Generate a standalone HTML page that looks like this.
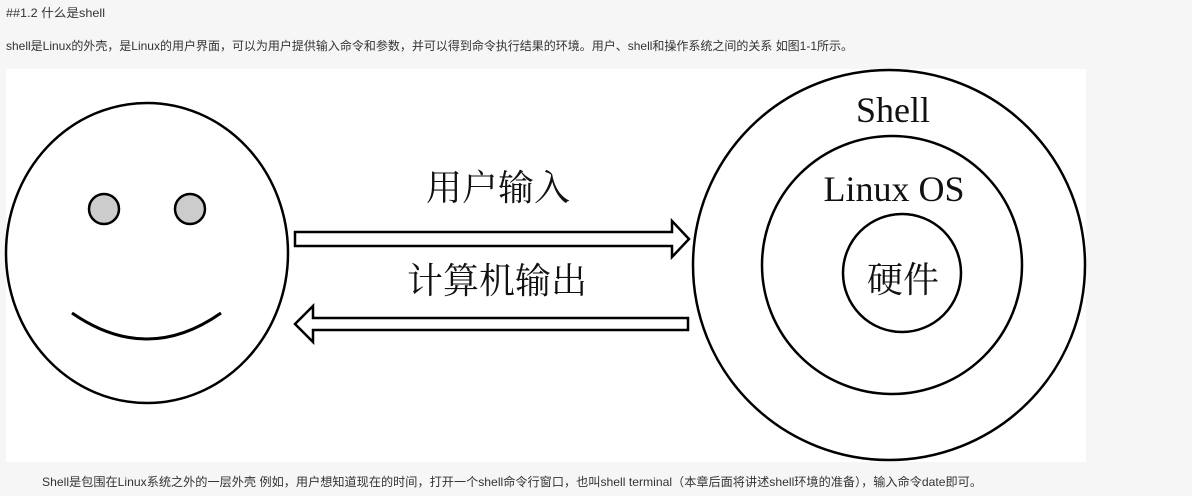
<!DOCTYPE html>
<html><head><meta charset="utf-8"><style>
html,body{margin:0;padding:0;background:#f6f6f6;width:1192px;height:496px;overflow:hidden}
svg{display:block}
.t{font-family:"Liberation Sans","Noto Sans CJK SC",sans-serif;font-size:12px;fill:#333}
.s{font-family:"Liberation Serif","Noto Serif CJK SC",serif;font-size:36px;fill:#111}
</style></head><body>
<svg width="1192" height="496" xmlns="http://www.w3.org/2000/svg">
<rect x="0" y="0" width="1192" height="496" fill="#f6f6f6"/>
<text class="t" x="6" y="17" textLength="99" lengthAdjust="spacingAndGlyphs">##1.2 什么是shell</text>
<text class="t" x="6" y="50" textLength="847" lengthAdjust="spacingAndGlyphs">shell是Linux的外壳，是Linux的用户界面，可以为用户提供输入命令和参数，并可以得到命令执行结果的环境。用户、shell和操作系统之间的关系 如图1-1所示。</text>
<rect x="6" y="69" width="1080" height="393" fill="#fff"/>
<g fill="none" stroke="#000" stroke-width="2.5">
<ellipse cx="147" cy="253" rx="141" ry="150"/>
<circle cx="104" cy="209" r="15" fill="#ccc"/>
<circle cx="190" cy="209" r="15" fill="#ccc"/>
<path d="M72 313 Q147 365 221 313" stroke-width="3"/>
<ellipse cx="889" cy="265" rx="196" ry="195"/>
<ellipse cx="892" cy="265" rx="130" ry="129"/>
<ellipse cx="902" cy="273" rx="59" ry="59"/>
<path d="M295 232 H672 V221 L689 239 L672 257 V246 H295 Z" fill="#fff"/>
<path d="M688 318 H313 V306 L295 324 L313 342 V330 H688 Z" fill="#fff"/>
</g>
<text class="s" x="498" y="200" text-anchor="middle">用户输入</text>
<text class="s" x="497" y="293" text-anchor="middle">计算机输出</text>
<text class="s" x="893" y="122" text-anchor="middle">Shell</text>
<text class="s" x="894" y="201" text-anchor="middle">Linux OS</text>
<text class="s" x="903" y="292" text-anchor="middle">硬件</text>
<text class="t" x="42" y="486" textLength="940" lengthAdjust="spacingAndGlyphs">Shell是包围在Linux系统之外的一层外壳 例如，用户想知道现在的时间，打开一个shell命令行窗口，也叫shell terminal（本章后面将讲述shell环境的准备），输入命令date即可。</text>
</svg>
</body></html>
